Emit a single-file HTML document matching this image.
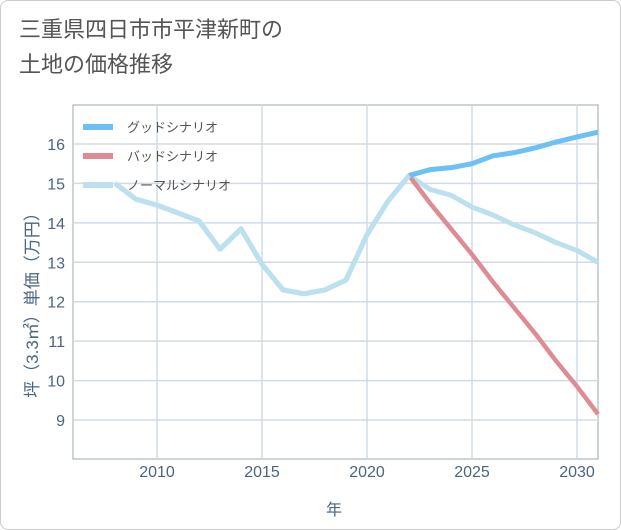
<!DOCTYPE html>
<html><head><meta charset="utf-8"><style>
body{margin:0;background:#fff;font-family:"Liberation Sans","Noto Sans CJK JP",sans-serif}
#wrap{position:relative;width:619px;height:528px;border:1px solid #ccc;border-radius:8px;background:#fff;overflow:hidden}
#title{position:absolute;left:18px;top:11px;font-size:22px;line-height:35px;color:#555}
</style></head><body>
<div id="wrap">
<div id="title">三重県四日市市平津新町の<br>土地の価格推移</div>
<svg id="chart" width="621" height="530" style="position:absolute;left:0;top:0"></svg>
</div>
<script>
const years=[2008,2009,2010,2011,2012,2013,2014,2015,2016,2017,2018,2019,2020,2021,2022,2023,2024,2025,2026,2027,2028,2029,2030,2031];
const normalVals=[15.0,14.6,14.45,14.25,14.05,13.33,13.85,12.95,12.3,12.2,12.3,12.55,13.7,14.55,15.2,14.85,14.7,14.4,14.2,13.95,13.75,13.5,13.3,13.0];
const futureYears=[2022,2023,2024,2025,2026,2027,2028,2029,2030,2031];
const goodVals=[15.2,15.35,15.4,15.5,15.7,15.78,15.9,16.05,16.18,16.3];
const badVals=[15.2,14.5,13.85,13.2,12.5,11.85,11.2,10.5,9.85,9.15];
const xTicks=[2010,2015,2020,2025,2030];
const yTicks=[9,10,11,12,13,14,15,16];
const L=72,R=597,T=104,B=458;
const x=v=>L+(v-2006)*(R-L)/25;
const y=v=>143+(16-v)*39.43;
const svg=document.getElementById('chart');const NS='http://www.w3.org/2000/svg';
function mk(t,a,p){const e=document.createElementNS(NS,t);for(const k in a)e.setAttribute(k,a[k]);(p||svg).appendChild(e);return e;}
const bg=mk('rect',{x:L,y:T,width:R-L,height:B-T,fill:'#fff',stroke:'#9aa8b5','stroke-width':1});


xTicks.forEach(v=>{
 const g=mk('line',{x1:x(v),x2:x(v),y1:T,y2:B,stroke:'#d0dbe5','stroke-width':1.5});
 
 
 const t=mk('text',{x:x(v),y:476,'text-anchor':'middle','font-size':16,fill:'#4a6580'});t.textContent=v;
 
 
});
yTicks.forEach(v=>{
 const g=mk('line',{x1:L,x2:R,y1:y(v),y2:y(v),stroke:'#d0dbe5','stroke-width':1.5});
 
 
 const t=mk('text',{x:64,y:y(v)+6,'text-anchor':'end','font-size':16,fill:'#4a6580'});t.textContent=v;
 
 
});
function line(xs,vs,color,name,w){
 const p=mk('polyline',{points:xs.map((yr,i)=>x(yr)+','+y(vs[i])).join(' '),fill:'none',stroke:color,'stroke-width':w,'stroke-linejoin':'round'});
 
 
}
line(years,normalVals,'#bde0ee','normal-scenario-line',5);
line(futureYears,badVals,'#df8b93','bad-scenario-line',4.5);
line(futureYears,goodVals,'#6cc0f5','good-scenario-line',5);
line(years.slice(0,15),normalVals.slice(0,15),'#bde0ee','normal-history-line',5);
const leg=[['グッドシナリオ','#6cc0f5'],['バッドシナリオ','#df8b93'],['ノーマルシナリオ','#bde0ee']];
leg.forEach((d,i)=>{
 const yy=126+i*29;
 const l=mk('line',{x1:82,x2:112,y1:yy,y2:yy,stroke:d[1],'stroke-width':6});
 
 
 const t=mk('text',{x:126,y:yy+5,'font-size':13,fill:'#555'});t.textContent=d[0];
 
 
});
const xt=mk('text',{x:333,y:514,'text-anchor':'middle','font-size':16,fill:'#4a6580'});xt.textContent='年';


const yt=mk('text',{x:0,y:0,'text-anchor':'middle','font-size':17,fill:'#4a6580',transform:'translate(37,300) rotate(-90)'});yt.textContent='坪（3.3㎡）単価（万円）';


</script>
</body></html>
